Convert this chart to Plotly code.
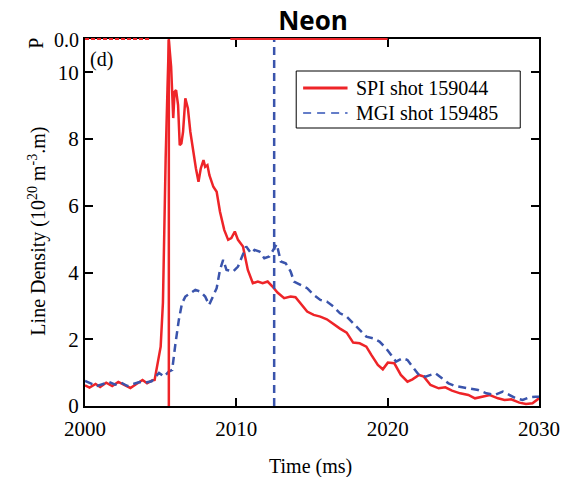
import plotly.graph_objects as go

# ---- data ----
spi_t = [2000.0, 2000.3, 2000.7, 2001.0, 2001.4, 2001.8, 2002.2, 2002.6, 2003.0, 2003.4,
         2003.8, 2004.1, 2004.4, 2004.6, 2004.78, 2005.0, 2005.15, 2005.22, 2005.33, 2005.45,
         2005.54, 2005.69, 2005.76, 2005.83, 2005.92, 2006.02, 2006.15, 2006.26, 2006.37, 2006.48,
         2006.63, 2006.80, 2006.96, 2007.18, 2007.33, 2007.50, 2007.65, 2007.83, 2007.94, 2008.09,
         2008.22, 2008.48, 2008.70, 2008.92, 2009.20, 2009.46, 2009.67, 2009.90, 2010.11, 2010.44,
         2010.76, 2011.09, 2011.42, 2011.74, 2012.07, 2012.39, 2012.72, 2013.16, 2013.59, 2013.91,
         2014.24, 2014.68, 2015.11, 2015.55, 2015.98, 2016.42, 2016.85, 2017.29, 2017.72, 2018.15,
         2018.59, 2018.92, 2019.35, 2019.68, 2020.01, 2020.44, 2020.87, 2021.31, 2021.64, 2022.07,
         2022.39, 2022.83, 2023.37, 2023.81, 2024.25, 2024.79, 2025.33, 2025.77, 2026.20, 2026.75,
         2027.29, 2027.72, 2028.16, 2028.70, 2029.14, 2029.57, 2030.0]
spi_n = [0.62, 0.55, 0.66, 0.57, 0.70, 0.60, 0.72, 0.62, 0.54, 0.66,
         0.78, 0.68, 0.76, 0.78, 1.18, 1.78, 3.10, 5.07, 7.43, 9.50,
         10.97, 10.17, 9.12, 8.63, 9.42, 9.47, 9.02, 7.82, 7.87, 8.22,
         9.22, 8.92, 8.22, 7.52, 7.12, 6.72, 7.12, 7.37, 7.17, 7.22,
         6.92, 6.57, 6.42, 5.82, 5.28, 4.98, 5.03, 5.23, 4.98, 4.78,
         4.08, 3.68, 3.73, 3.68, 3.73, 3.58, 3.40, 3.23, 3.28, 3.26,
         3.08, 2.83, 2.73, 2.68, 2.60, 2.45, 2.32, 2.20, 1.90, 1.88,
         1.78, 1.53, 1.23, 1.10, 1.30, 1.28, 0.93, 0.73, 0.80, 0.93,
         0.88, 0.63, 0.53, 0.56, 0.46, 0.38, 0.33, 0.23, 0.28, 0.33,
         0.23, 0.18, 0.20, 0.10, 0.06, 0.08, 0.23]

mgi_t = [2000.0, 2000.4, 2000.8, 2001.2, 2001.6, 2002.0, 2002.4, 2002.8, 2003.2, 2003.6,
         2004.0, 2004.4, 2004.89, 2005.22, 2005.54, 2005.76, 2005.98, 2006.20, 2006.41, 2006.63,
         2006.96, 2007.29, 2007.61, 2007.94, 2008.20, 2008.48, 2008.70, 2008.92, 2009.13, 2009.35,
         2009.78, 2010.11, 2010.44, 2010.65, 2010.98, 2011.20, 2011.53, 2011.85, 2012.18, 2012.50,
         2012.67, 2012.94, 2013.26, 2013.59, 2013.81, 2014.24, 2014.68, 2015.11, 2015.55, 2015.98,
         2016.42, 2016.85, 2017.29, 2017.72, 2018.15, 2018.59, 2019.03, 2019.46, 2019.90, 2020.22,
         2020.55, 2020.98, 2021.31, 2021.64, 2022.07, 2022.50, 2023.16, 2023.59, 2024.02, 2024.46,
         2025.00, 2025.55, 2025.98, 2026.53, 2027.07, 2027.61, 2028.05, 2028.49, 2028.92, 2029.35,
         2029.79, 2030.0]
mgi_n = [0.75, 0.68, 0.60, 0.66, 0.72, 0.64, 0.70, 0.60, 0.66, 0.72,
         0.70, 0.74, 0.99, 0.88, 1.03, 1.08, 1.88, 2.58, 3.08, 3.28,
         3.38, 3.48, 3.43, 3.28, 3.03, 3.33, 3.53, 4.08, 4.38, 4.08,
         4.03, 4.18, 4.58, 4.78, 4.58, 4.68, 4.63, 4.43, 4.48, 4.73,
         4.85, 4.33, 4.28, 4.03, 3.73, 3.63, 3.53, 3.33, 3.18, 3.13,
         2.98, 2.78, 2.68, 2.48, 2.28, 2.08, 2.03, 1.93, 1.73, 1.53,
         1.33, 1.43, 1.38, 1.18, 0.93, 0.88, 0.98, 0.83, 0.68, 0.60,
         0.56, 0.53, 0.48, 0.38, 0.33, 0.43, 0.33, 0.23, 0.18, 0.26,
         0.28, 0.28]

spi_marker_time = 2005.54   # vertical red line
mgi_marker_time = 2012.5    # vertical blue dashed line

spi_name = "SPI shot 159044"
mgi_name = "MGI shot 159485"
x_ticks = [2000, 2010, 2020, 2030]
y_ticks = [0, 2, 4, 6, 8, 10]

RED = "rgb(238,36,40)"
BLUE = "rgb(58,84,172)"
SERIF = "Liberation Serif, Times New Roman, serif"

fig = go.Figure()
fig.add_trace(go.Scatter(x=spi_t, y=spi_n, mode="lines", name=spi_name,
                         line=dict(color=RED, width=2.5), showlegend=False))
fig.add_trace(go.Scatter(x=mgi_t, y=mgi_n, mode="lines", name=mgi_name,
                         line=dict(color=BLUE, width=2.5, dash="8px,5px"), showlegend=False))

fig.add_vline(x=spi_marker_time, line=dict(color=RED, width=2.5))
fig.add_vline(x=mgi_marker_time, line=dict(color=BLUE, width=2.5, dash="8px,5px"))

# remnants of the panel above along the top border
fig.add_shape(type="line", xref="x", yref="paper", x0=2000, x1=2004.3, y0=1, y1=1,
              line=dict(color=RED, width=2, dash="4px,2px"), layer="above")
fig.add_shape(type="line", xref="x", yref="paper", x0=2009.6, x1=2020.0, y0=1, y1=1,
              line=dict(color=RED, width=2), layer="above")

# manual legend (box, sample lines, labels)
fig.add_shape(type="rect", xref="paper", yref="paper",
              x0=(299 - 85) / 460, x1=(526 - 85) / 460,
              y0=(406 - 128) / 367, y1=(406 - 71) / 367,
              line=dict(color="black", width=1), fillcolor="white", layer="above")
fig.add_shape(type="line", xref="paper", yref="paper",
              x0=(306 - 85) / 460, x1=(351 - 85) / 460,
              y0=(406 - 88) / 367, y1=(406 - 88) / 367,
              line=dict(color=RED, width=3), layer="above")
fig.add_shape(type="line", xref="paper", yref="paper",
              x0=(306 - 85) / 460, x1=(351 - 85) / 460,
              y0=(406 - 113) / 367, y1=(406 - 113) / 367,
              line=dict(color="rgb(100,125,200)", width=2, dash="8px,6px"), layer="above")
fig.add_annotation(text=spi_name, xref="paper", yref="paper",
                   x=(358 - 85) / 460, y=(406 - 88) / 367, xanchor="left", yanchor="middle",
                   showarrow=False, font=dict(family=SERIF, size=20, color="black"))
fig.add_annotation(text=mgi_name, xref="paper", yref="paper",
                   x=(358 - 85) / 460, y=(406 - 113) / 367, xanchor="left", yanchor="middle",
                   showarrow=False, font=dict(family=SERIF, size=20, color="black"))

# panel label and remnants
fig.add_annotation(text="(d)", xref="paper", yref="paper", x=(88 - 85) / 460, y=(406 - 60) / 367,
                   xanchor="left", yanchor="middle", showarrow=False,
                   font=dict(family=SERIF, size=20, color="black"))
fig.add_annotation(text="0.0", xref="paper", yref="paper", x=(81 - 85) / 460, y=(406 - 40) / 367,
                   xanchor="right", yanchor="middle", showarrow=False,
                   font=dict(family=SERIF, size=20, color="black"))
fig.add_annotation(text="P", xref="paper", yref="paper", x=(35 - 85) / 460, y=(406 - 43) / 367,
                   xanchor="center", yanchor="middle", showarrow=False, textangle=-90,
                   font=dict(family=SERIF, size=20, color="black"))

# axis titles
fig.add_annotation(text="Line Density (10<sup>20</sup> m<sup>-3</sup>.m)", xref="paper", yref="paper",
                   x=(37 - 85) / 460, y=(406 - 231) / 367, xanchor="center", yanchor="middle",
                   showarrow=False, textangle=-90,
                   font=dict(family=SERIF, size=20, color="black"))
fig.add_annotation(text="Time (ms)", xref="paper", yref="paper",
                   x=(313 - 85) / 460, y=(406 - 453) / 367, xanchor="center", yanchor="top",
                   showarrow=False, font=dict(family=SERIF, size=20, color="black"))

axis_common = dict(showgrid=False, zeroline=False, showline=True, linecolor="black", linewidth=2,
                   mirror="ticks", ticks="inside", ticklen=8, tickwidth=2, tickcolor="black",
                   tickfont=dict(family=SERIF, size=21, color="black"))

fig.update_layout(
    width=572, height=477,
    margin=dict(l=85, r=27, t=39, b=71),
    paper_bgcolor="white", plot_bgcolor="white",
    title=dict(text="<b>Neon</b>", x=313 / 572, xanchor="center", y=1 - 21 / 477, yanchor="middle",
               font=dict(family="Open Sans, sans-serif", size=26, color="black")),
    xaxis=dict(range=[2000, 2030], tickvals=x_ticks, ticklabelstandoff=3, **axis_common),
    yaxis=dict(range=[0, 11], tickvals=y_ticks, **axis_common),
    showlegend=False,
)

fig.write_html("out.html")
